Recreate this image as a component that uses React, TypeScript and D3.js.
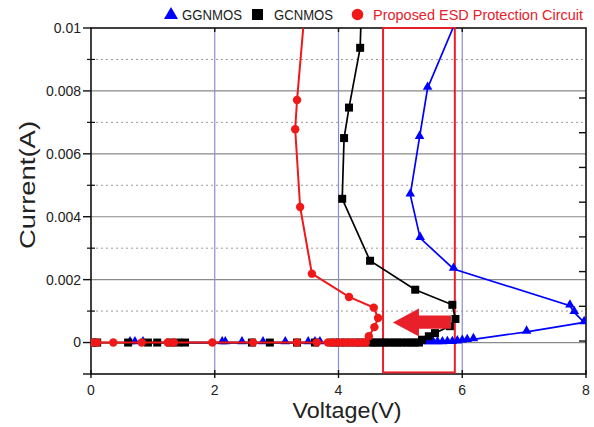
import React from 'react';
import * as d3 from 'd3';

const W = 594;
const H = 427;

// current values are in mA, axis labels are in A
const ggnmosV = [0.63, 0.71, 0.84, 2.12, 2.17, 2.44, 2.78, 3.14, 3.51, 3.62, 3.7, 5.37, 5.45, 5.53, 5.6, 5.68, 5.76, 5.84, 5.92, 6.0, 6.08, 6.18, 7.04, 7.97, 7.81, 7.74, 5.86, 5.32, 5.16, 5.31, 5.44, 5.85];
const ggnmosI = [0, 0, 0, 0, 0, 0, 0, 0, 0, 0, 0, 0, 0, 0, 0, 0, 0.01, 0.01, 0.03, 0.05, 0.07, 0.1, 0.34, 0.64, 0.96, 1.17, 2.34, 3.32, 4.7, 6.53, 8.09, 10.0];

const gcnmosV = [0.02, 0.1, 0.6, 0.92, 1.07, 1.28, 1.41, 1.52, 2.6, 2.89, 3.33, 3.62, 3.91, 4.02, 4.14, 4.27, 4.38, 4.51, 4.57, 4.63, 4.7, 4.76, 4.83, 4.9, 4.96, 5.03, 5.1, 5.17, 5.23, 5.3, 5.35, 5.46, 5.56, 5.8, 5.89, 5.84, 5.24, 4.51, 4.06, 4.09, 4.17, 4.35, 4.36];
const gcnmosI = [0, 0, 0, 0, 0, 0, 0, 0, 0, 0, 0, 0, 0, 0, 0, 0, 0, 0, 0, 0, 0, 0, 0, 0, 0, 0, 0, 0, 0, 0, 0.09, 0.2, 0.3, 0.52, 0.75, 1.2, 1.68, 2.6, 4.57, 6.5, 7.47, 9.37, 10.0];

const proposedV = [0.02, 0.1, 0.36, 0.82, 1.24, 1.34, 1.96, 2.62, 3.33, 3.65, 3.83, 3.91, 3.99, 4.07, 4.15, 4.22, 4.3, 4.38, 4.44, 4.49, 4.58, 4.64, 4.57, 4.17, 3.57, 3.38, 3.3, 3.33, 3.43];
const proposedI = [0, 0, 0, 0, 0, 0, 0, 0, 0, 0, 0, 0, 0, 0, 0, 0, 0, 0, 0, 0.2, 0.49, 0.78, 1.11, 1.45, 2.19, 4.31, 6.78, 7.71, 10.0];

const xTicks = [0, 2, 4, 6, 8];
const xGrid = [2, 4, 6];
const yMajor = [0, 2, 4, 6, 8, 10];
const yMajorLabels = ['0', '0.002', '0.004', '0.006', '0.008', '0.01'];
const yMinor = [1, 3, 5, 7, 9];
const rightTicks = [0, 1, 2, 3, 4, 5, 6, 7];

// highlighted window and arrow (V, mA)
const boxV = [4.72, 5.88];
const boxI = [-0.95, 10];
const arrowV = [4.88, 5.3, 5.3, 5.82, 5.82, 5.3, 5.3];
const arrowI = [0.64, 1.08, 0.86, 0.86, 0.44, 0.44, 0.19];

const FONT = '"Liberation Sans", Arial, sans-serif';
const BLUE = '#0000ff';
const RED = '#f01818';

type Pt = { v: number; i: number };
const zipPts = (vs: number[], is: number[]): Pt[] => vs.map((v, k) => ({ v, i: is[k] }));

export default function App() {
    const x = d3.scaleLinear().domain([0, 8]).range([91, 586]);
    const y = d3.scaleLinear().domain([-1, 10]).range([374, 28]);
    const yRight = d3.scaleLinear().domain([0, 7]).range([y(0) - 1.5, 98]);

    const line = d3
        .line<Pt>()
        .x((d) => x(d.v))
        .y((d) => y(d.i));

    const blue = zipPts(ggnmosV, ggnmosI);
    const black = zipPts(gcnmosV, gcnmosI);
    const red = zipPts(proposedV, proposedI);
    const inside = (d: Pt) => d.i < 9.9;

    const tri = d3.symbol(d3.symbolTriangle, 40)()!;
    const triLegend = d3.symbol(d3.symbolTriangle, 85)()!;

    const arrowPts = arrowV.map((v, k) => `${x(v)},${y(arrowI[k])}`).join(' ');

    return (
        <svg
            width={W}
            height={H}
            style={{ position: 'absolute', left: 0, top: 0, background: '#fff' }}
            fontFamily={FONT}
        >
            <defs>
                <clipPath id="plot">
                    <rect x={x(0)} y={y(10)} width={x(8) - x(0)} height={y(-1) - y(10)} />
                </clipPath>
            </defs>

            {/* grid */}
            {yMinor.map((t) => (
                <line key={`mn-${t}`} x1={x(0)} x2={x(8)} y1={y(t)} y2={y(t)} stroke="#9a9a9a" strokeDasharray="2,3" />
            ))}
            {yMajor.slice(0, -1).map((t) => (
                <line key={`mj-${t}`} x1={x(0)} x2={x(8)} y1={y(t)} y2={y(t)} stroke="#8a8a8a" strokeWidth={1.2} />
            ))}
            {xGrid.map((t) => (
                <line key={`vg-${t}`} x1={x(t)} x2={x(t)} y1={y(10)} y2={y(-1)} stroke="#8c8cd0" strokeWidth={1.2} />
            ))}

            {/* frame */}
            <rect x={x(0)} y={y(10)} width={x(8) - x(0)} height={y(-1) - y(10)} fill="none" stroke="#111" strokeWidth={1.6} />

            {/* left axis ticks and labels */}
            {yMajor.map((t, k) => (
                <g key={`yl-${t}`}>
                    <line x1={x(0) - 8} x2={x(0)} y1={y(t)} y2={y(t)} stroke="#111" strokeWidth={1.4} />
                    <text x={x(0) - 10} y={y(t)} dy="0.35em" textAnchor="end" fontSize={14} fill="#222">
                        {yMajorLabels[k]}
                    </text>
                </g>
            ))}
            {yMinor.map((t) => (
                <line key={`ymt-${t}`} x1={x(0) - 4} x2={x(0) + 4} y1={y(t)} y2={y(t)} stroke="#111" strokeWidth={1.2} />
            ))}
            <line x1={x(0) - 8} x2={x(0)} y1={y(-1)} y2={y(-1)} stroke="#111" strokeWidth={1.4} />

            {/* right axis ticks */}
            {rightTicks.map((t) => (
                <line key={`rt-${t}`} x1={x(8) - 7} x2={x(8)} y1={yRight(t)} y2={yRight(t)} stroke="#111" strokeWidth={1.4} />
            ))}

            {/* top ticks */}
            {xGrid.map((t) => (
                <line key={`tt-${t}`} x1={x(t)} x2={x(t)} y1={y(10)} y2={y(10) + 4} stroke="#111" strokeWidth={1.4} />
            ))}

            {/* bottom axis ticks and labels */}
            {xTicks.map((t) => (
                <g key={`xl-${t}`}>
                    <line x1={x(t)} x2={x(t)} y1={y(-1) - 4} y2={y(-1) + 4} stroke="#111" strokeWidth={1.4} />
                    <text x={x(t)} y={395} textAnchor="middle" fontSize={14} fill="#222">
                        {t}
                    </text>
                </g>
            ))}

            {/* axis titles */}
            <text x={347} y={418} textAnchor="middle" fontSize={22} fill="#222" textLength={109} lengthAdjust="spacingAndGlyphs">
                Voltage(V)
            </text>
            <text
                transform={`translate(35,185) rotate(-90)`}
                textAnchor="middle"
                fontSize={22}
                fill="#222"
                textLength={128}
                lengthAdjust="spacingAndGlyphs"
            >
                Current(A)
            </text>

            {/* highlight box */}
            <rect
                x={x(boxV[0])}
                y={y(boxI[1])}
                width={x(boxV[1]) - x(boxV[0])}
                height={y(boxI[0]) - y(boxI[1])}
                fill="none"
                stroke="#e8202a"
                strokeWidth={2}
            />

            <g clipPath="url(#plot)">
                <path d={line(blue)!} fill="none" stroke={BLUE} strokeWidth={1.7} />
                {blue.filter(inside).map((d, k) => (
                    <path key={`b-${k}`} d={tri} transform={`translate(${x(d.v)},${y(d.i) - 1})`} fill={BLUE} />
                ))}

                <path d={line(black)!} fill="none" stroke="#000" strokeWidth={1.7} />
                {black.filter(inside).map((d, k) => (
                    <rect key={`k-${k}`} x={x(d.v) - 4} y={y(d.i) - 4} width={8} height={8} fill="#000" />
                ))}

                <path d={line(red)!} fill="none" stroke={RED} strokeWidth={2} />
                {red.filter(inside).map((d, k) => (
                    <circle key={`r-${k}`} cx={x(d.v)} cy={y(d.i)} r={4.2} fill={RED} />
                ))}
            </g>

            {/* arrow */}
            <polygon points={arrowPts} fill="#e8202a" />

            {/* legend */}
            <path d={triLegend} transform="translate(171,15)" fill={BLUE} />
            <text x={182} y={19.5} fontSize={14} fill="#222" textLength={60} lengthAdjust="spacingAndGlyphs">GGNMOS</text>
            <rect x={252} y={9} width={11} height={11} fill="#000" />
            <text x={274} y={19.5} fontSize={14} fill="#222" textLength={59} lengthAdjust="spacingAndGlyphs">GCNMOS</text>
            <circle cx={357.5} cy={14.5} r={5.8} fill={RED} />
            <text x={373} y={19.5} fontSize={14} fill="#e8202a" textLength={210} lengthAdjust="spacingAndGlyphs">
                Proposed ESD Protection Circuit
            </text>
        </svg>
    );
}
